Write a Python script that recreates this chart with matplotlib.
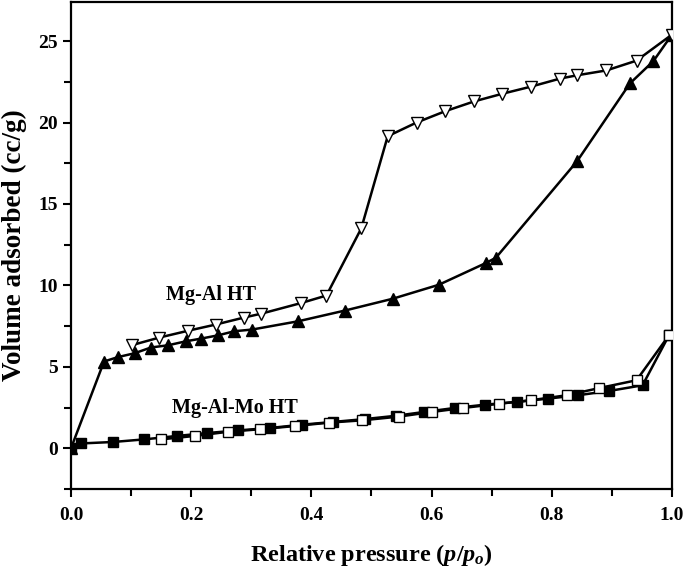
import numpy as np
import matplotlib
matplotlib.use('Agg')
import matplotlib.pyplot as plt

plt.rcParams['font.family'] = 'Liberation Serif'
plt.rcParams['font.weight'] = 'bold'
plt.rcParams['mathtext.fontset'] = 'custom'
plt.rcParams['mathtext.rm'] = 'Liberation Serif:bold'
plt.rcParams['mathtext.it'] = 'Liberation Serif:italic:bold'

# Mg-Al HT adsorption (filled triangles)
al_ads_x = [0.0, 0.055, 0.078, 0.106, 0.133, 0.162, 0.191, 0.217, 0.245, 0.272,
            0.301, 0.378, 0.456, 0.535, 0.612, 0.690, 0.707, 0.842, 0.930, 0.969, 1.0]
al_ads_y = [0.0, 5.33, 5.6, 5.84, 6.19, 6.33, 6.57, 6.74, 6.94, 7.19,
            7.29, 7.8, 8.46, 9.18, 10.04, 11.37, 11.7, 17.62, 22.4, 23.77, 25.4]

# Mg-Al HT desorption (open triangles)
al_des_x = [1.0, 0.941, 0.891, 0.842, 0.814, 0.765, 0.717, 0.671, 0.623, 0.575,
            0.527, 0.483, 0.425, 0.383, 0.317, 0.288, 0.241, 0.195, 0.147, 0.101]
al_des_y = [25.4, 23.8, 23.2, 22.9, 22.7, 22.2, 21.76, 21.3, 20.7, 20.0,
            19.16, 13.5, 9.38, 8.92, 8.27, 8.03, 7.6, 7.22, 6.8, 6.33]

# Mg-Al-Mo HT adsorption (filled squares)
mo_ads_x = [0.0, 0.017, 0.070, 0.122, 0.176, 0.227, 0.278, 0.331, 0.384, 0.436,
            0.490, 0.541, 0.587, 0.639, 0.689, 0.742, 0.793, 0.844, 0.895, 0.951, 0.995]
mo_ads_y = [0.0, 0.3, 0.39, 0.55, 0.76, 0.94, 1.1, 1.25, 1.45, 1.62,
            1.8, 2.0, 2.23, 2.48, 2.68, 2.85, 3.05, 3.26, 3.52, 3.87, 6.94]

# Mg-Al-Mo HT desorption (open squares)
mo_des_x = [0.995, 0.941, 0.879, 0.825, 0.765, 0.713, 0.653, 0.600, 0.546, 0.485,
            0.430, 0.373, 0.314, 0.262, 0.206, 0.150]
mo_des_y = [6.94, 4.18, 3.7, 3.26, 2.95, 2.74, 2.48, 2.23, 1.95, 1.72,
            1.58, 1.37, 1.17, 1.02, 0.76, 0.55]

fig = plt.figure(figsize=(6.85, 5.7), dpi=100)
ax = fig.add_axes([0.1036, 0.142, 0.8774, 0.8545])

ax.plot(mo_ads_x, mo_ads_y, color='black', lw=1.8, marker='s', ms=7,
        mfc='black', mec='black', zorder=3)
ax.plot(mo_des_x, mo_des_y, color='black', lw=1.8, marker='s', ms=7,
        mfc='white', mec='black', mew=1.0, zorder=4)
ax.plot(al_ads_x, al_ads_y, color='black', lw=1.8, marker='^', ms=9,
        mfc='black', mec='black', zorder=3)
ax.plot(al_des_x, al_des_y, color='black', lw=1.8, marker='v', ms=9,
        mfc='white', mec='black', mew=1.0, zorder=4)

ax.text(0.233, 9.4, 'Mg-Al HT', fontsize=14.5, fontweight='bold',
        ha='center', va='center')
ax.text(0.273, 2.46, 'Mg-Al-Mo HT', fontsize=14.5, fontweight='bold',
        ha='center', va='center')

ax.set_xlim(0, 1.0)
ax.set_ylim(-2.5, 27.4)
ax.set_xticks(np.arange(0, 1.01, 0.2))
ax.set_xticks(np.arange(0.1, 1.0, 0.2), minor=True)
ax.set_yticks(np.arange(0, 26, 5))
ax.set_yticks(np.arange(-2.5, 27, 5), minor=True)
ax.set_xticklabels(['0.0', '0.2', '0.4', '0.6', '0.8', '1.0'])
ax.tick_params(which='both', direction='out', width=1.5, labelsize=14)
ax.tick_params(which='major', length=6)
ax.tick_params(which='minor', length=5)
ax.tick_params(axis='x', pad=7)
for s in ax.spines.values():
    s.set_linewidth(1.6)

ax.set_xlabel(r'Relative pressure ($p/p_o$)', fontsize=17.5, fontweight='bold',
              labelpad=13)
ax.set_ylabel('Volume adsorbed (cc/g)', fontsize=19.5, fontweight='bold',
              labelpad=8)

plt.savefig('out.png', dpi=100)
